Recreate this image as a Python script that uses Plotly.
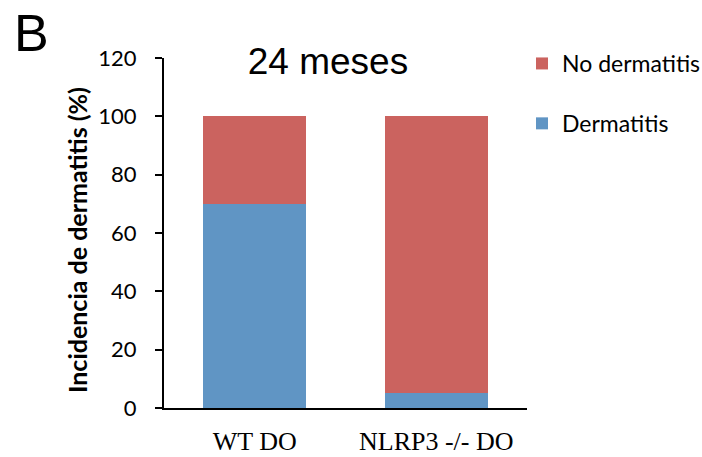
import plotly.graph_objects as go

categories = ["WT DO", "NLRP3 -/- DO"]
dermatitis = [70, 5]
no_dermatitis = [30, 95]
y_ticks = [0, 20, 40, 60, 80, 100, 120]

RED = "#CB635F"
BLUE = "#6095C4"

fig = go.Figure()
fig.add_trace(go.Bar(x=categories, y=dermatitis, name="Dermatitis",
                     marker=dict(color=BLUE, line=dict(width=0)),
                     legendgroup="a", legendrank=2))
fig.add_trace(go.Bar(x=categories, y=no_dermatitis, name="No dermatitis",
                     marker=dict(color=RED, line=dict(width=0)),
                     legendgroup="b", legendrank=1))

L, R, T, B = 164, 175, 58, 49
W, H = 702, 457
pw = W - L - R
ph = H - T - B

fig.update_layout(
    width=W, height=H,
    barmode="stack", bargap=0.43,
    plot_bgcolor="white", paper_bgcolor="white",
    margin=dict(l=L, r=R, t=T, b=B, autoexpand=False),
    title=dict(text="24 meses", x=(328 - L) / pw, xref="paper", xanchor="center",
               y=1 - 61 / H, yref="container", yanchor="middle",
               font=dict(family="Liberation Sans", size=37, color="black")),
    legend=dict(x=(522 - L) / pw, xanchor="left", y=(H - B - 42) / ph, yanchor="top",
                traceorder="grouped", tracegroupgap=27,
                font=dict(family="Lato", size=23, color="black"),
                bgcolor="rgba(0,0,0,0)"),
    xaxis=dict(showline=True, linecolor="black", linewidth=2, ticks="",
               tickfont=dict(family="Liberation Serif", size=26, color="black"),
               ticklabelstandoff=9, range=[-0.5, 1.5]),
    yaxis=dict(range=[0, 120], tickvals=y_ticks, showline=True, linecolor="black",
               linewidth=2, ticks="outside", ticklen=7, tickwidth=2, tickcolor="black",
               showgrid=False, zeroline=False,
               tickfont=dict(family="Lato", size=22, color="black"),
               ticklabelstandoff=14),
    annotations=[
        dict(text="<b>Incidencia de dermatitis (%)</b>", textangle=-90,
             xref="paper", yref="paper",
             x=(77 - L) / pw, y=(H - B - 240) / ph, xanchor="center", yanchor="middle",
             showarrow=False, font=dict(family="Lato", size=25, color="black")),
        dict(text="B", xref="paper", yref="paper", x=(12 - L) / pw, y=(H - B - 33) / ph,
             xanchor="left", yanchor="middle", showarrow=False,
             font=dict(family="Liberation Sans", size=52, color="black")),
    ],
)

fig.write_html("out.html")
